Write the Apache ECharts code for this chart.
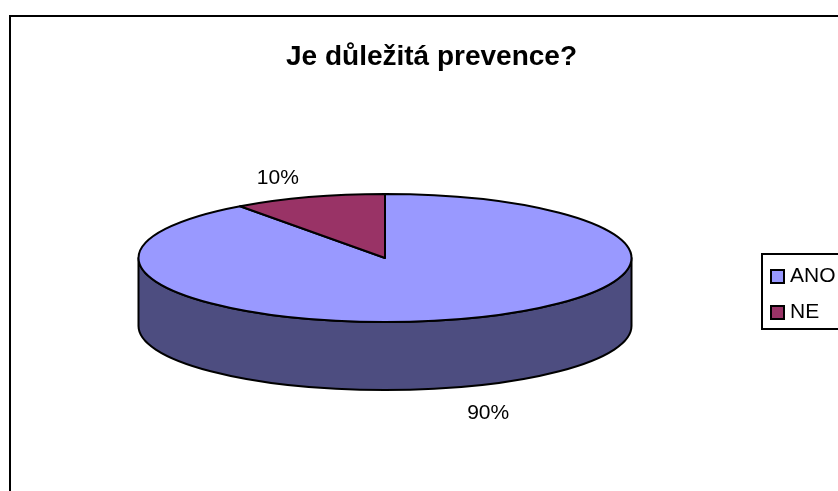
<!DOCTYPE html>
<html lang="cs">
<head>
	<meta charset="UTF-8">
	<title>Je důležitá prevence?</title>
	<style>
		html, body { margin: 0; padding: 0; background: #fff; overflow: hidden; }
		#main { width: 838px; height: 491px; }
	</style>
</head>
<body>
	<div id="main"></div>
	<script src="https://cdn.jsdelivr.net/npm/echarts@6/dist/echarts.min.js"></script>
	<script>
		// data
		var categories = ['ANO', 'NE'];
		var values = [90, 10];
		var topColors = ['#9999ff', '#993366'];
		var sideColors = ['#4d4d80', '#4d1a33'];

		// ellipse of the pie top, and its depth
		var pie = { cx: 385, cy: 258, rx: 246.5, ry: 64, depth: 68 };
		var labelOffsets = [[27, 26], [-31, -19]];
		var fontName = '"Liberation Sans", Arial, sans-serif';

		var total = values.reduce(function (a, b) { return a + b; }, 0);

		function pt(angle, dy) {
			return [
				pie.cx + pie.rx * Math.sin(angle),
				pie.cy - pie.ry * Math.cos(angle) + (dy || 0)
			];
		}

		function topPath(a0, a1) {
			var p0 = pt(a0), p1 = pt(a1);
			var large = a1 - a0 > Math.PI ? 1 : 0;
			return 'M' + pie.cx + ' ' + pie.cy + 'L' + p0[0] + ' ' + p0[1] +
				'A' + pie.rx + ' ' + pie.ry + ' 0 ' + large + ' 1 ' + p1[0] + ' ' + p1[1] + 'Z';
		}

		// only the front half of the rim can be seen
		function sidePath(a0, a1) {
			var from = Math.max(a0, Math.PI / 2), to = Math.min(a1, Math.PI * 1.5);
			if (to <= from) return null;
			var p0 = pt(from), p1 = pt(to), p2 = pt(to, pie.depth), p3 = pt(from, pie.depth);
			var arc = pie.rx + ' ' + pie.ry + ' 0 0 ';
			return 'M' + p0[0] + ' ' + p0[1] + 'A' + arc + '1 ' + p1[0] + ' ' + p1[1] +
				'L' + p2[0] + ' ' + p2[1] + 'A' + arc + '0 ' + p3[0] + ' ' + p3[1] + 'Z';
		}

		var stroke = { stroke: '#000', lineWidth: 2, lineJoin: 'round' };

		function makeSeries(name, i) {
			var before = values.slice(0, i).reduce(function (a, b) { return a + b; }, 0);
			var a0 = before / total * Math.PI * 2;
			var a1 = (before + values[i]) / total * Math.PI * 2;
			var mid = (a0 + a1) / 2;
			return {
				name: name,
				type: 'custom',
				coordinateSystem: 'none',
				silent: true,
				itemStyle: { color: topColors[i] },
				data: [values[i]],
				renderItem: function (params, api) {
					var children = [];
					var side = sidePath(a0, a1);
					if (side) {
						children.push({
							type: 'path',
							shape: { pathData: side },
							style: Object.assign({ fill: sideColors[i] }, stroke)
						});
					}
					children.push({
						type: 'path',
						shape: { pathData: topPath(a0, a1) },
						style: Object.assign({ fill: topColors[i] }, stroke)
					});
					var anchor = pt(mid, Math.cos(mid) < 0 ? pie.depth : 0);
					children.push({
						type: 'text',
						x: anchor[0] + labelOffsets[i][0],
						y: anchor[1] + labelOffsets[i][1],
						style: {
							text: api.value(0) + '%',
							fill: '#000',
							font: '21px ' + fontName,
							textAlign: 'center',
							textVerticalAlign: 'middle'
						}
					});
					return { type: 'group', children: children };
				}
			};
		}

		var chart = echarts.init(document.getElementById('main'), null, { renderer: 'canvas' });
		chart.setOption({
			animation: false,
			backgroundColor: '#fff',
			title: {
				text: 'Je důležitá prevence?',
				left: 426.5,
				top: 38,
				textAlign: 'center',
				textStyle: { color: '#000', fontFamily: fontName, fontWeight: 'bold', fontSize: 28 }
			},
			legend: {
				data: categories,
				orient: 'vertical',
				left: 762,
				top: 254,
				padding: [12, 60, 6, 8],
				borderColor: '#000',
				borderWidth: 2,
				icon: 'rect',
				itemWidth: 13,
				itemHeight: 13,
				itemGap: 15,
				itemStyle: { borderColor: '#000', borderWidth: 2 },
				textStyle: { color: '#000', fontFamily: fontName, fontSize: 21, padding: [0, 0, 0, 1] }
			},
			graphic: [{
				type: 'rect',
				silent: true,
				z: -1,
				shape: { x: 10, y: 16, width: 900, height: 560 },
				style: { fill: '#fff', stroke: '#000', lineWidth: 2 }
			}],
			series: categories.map(makeSeries)
		});
	</script>
</body>
</html>
